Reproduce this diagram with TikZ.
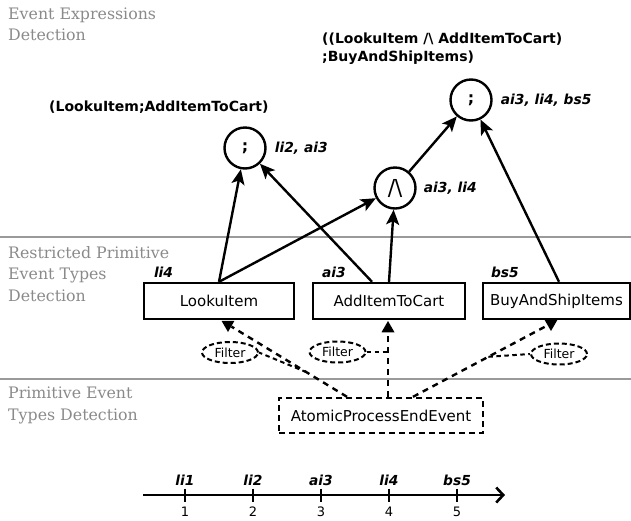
\documentclass[tikz,border=0pt]{standalone}
\usepackage{fontspec}
\setmainfont{DejaVu Sans}
\newfontfamily\layerfont{DejaVu Serif}
\usetikzlibrary{arrows.meta,shapes.geometric}
\definecolor{layergray}{HTML}{8A8A8A}
\definecolor{rulegray}{HTML}{9A9A9A}
\tikzset{
  layertxt/.style={anchor=west,align=left,inner sep=0pt,text=layergray,
    font=\layerfont\fontsize{15.8}{21.5}\selectfont},
  layerrule/.style={draw=rulegray,line width=1.3pt},
  evbox/.style={draw,line width=2.4pt,minimum height=36pt,inner sep=0pt,
    font=\fontsize{15}{18}\selectfont},
  srcbox/.style={draw,line width=2.4pt,dash pattern=on 6pt off 4pt,
    minimum width=204pt,minimum height=35pt,inner sep=0pt,
    font=\fontsize{15}{18}\selectfont},
  opnode/.style={circle,draw,line width=2.4pt,minimum size=41pt,inner sep=0pt},
  tag/.style={inner sep=0pt,font=\bfseries\itshape\fontsize{13.8}{16}\selectfont},
  expr/.style={inner sep=0pt,align=left,font=\bfseries\fontsize{14}{18}\selectfont},
  arr/.style={line width=2.4pt,-{Stealth[length=15pt,width=13pt,inset=3.5pt]}},
  dep/.style={line width=2.4pt,dash pattern=on 6pt off 5pt},
  tipmark/.style={regular polygon,regular polygon sides=3,fill=black,
    minimum size=15pt,inner sep=0pt},
  filt/.style={ellipse,draw,line width=2pt,dash pattern=on 5pt off 3pt,
    minimum width=56pt,minimum height=21pt,inner sep=0pt,
    font=\fontsize{12.5}{14}\selectfont},
  link/.style={line width=2pt,dash pattern=on 4.5pt off 3.5pt},
  axis/.style={line width=2.6pt,-{Straight Barb[length=7pt,width=15pt]}},
  tick/.style={line width=2.6pt},
  num/.style={inner sep=0pt,font=\fontsize{13}{15}\selectfont}
}
\begin{document}
\begin{tikzpicture}[x=1pt,y=-1pt]
\useasboundingbox (0,0) rectangle (631,520);

% layer separators
\draw[layerrule] (0,237) -- (631,237);
\draw[layerrule] (0,379) -- (631,379);

% layer titles
\node[layertxt] (L1) at (8,24.5) {Event Expressions\\Detection};
\node[layertxt] (L2) at (8,274) {Restricted Primitive\\Event Types\\Detection};
\node[layertxt] (L3) at (8,405.5) {Primitive Event\\Types Detection};

% restricted primitive event types
\node[evbox,minimum width=150pt] (look) at (219,301) {LookuItem};
\node[evbox,minimum width=152pt] (add) at (389,301) {AddItemToCart};
\node[evbox,minimum width=147pt] (buy) at (556.5,301) {BuyAndShipItems};
\node[tag,anchor=base west] (tlook) at ([xshift=11pt,yshift=4pt]look.north west) {li4};
\node[tag,anchor=base west] (tadd) at ([xshift=10pt,yshift=4pt]add.north west) {ai3};
\node[tag,anchor=base west] (tbuy) at ([xshift=9pt,yshift=4pt]buy.north west) {bs5};

% primitive event source
\node[srcbox] (ape) at (381,415.5) {AtomicProcessEndEvent};

% operator nodes
\node[opnode] (c1) at (245,148) {\textbf{\fontsize{16}{18}\selectfont ;}};
\node[opnode] (c2) at (395,188) {\fontsize{22}{24}\selectfont /\kern-0.5pt\textbackslash};
\node[opnode] (c3) at (471,100) {\textbf{\fontsize{16}{18}\selectfont ;}};
\node[tag,anchor=west] (tc1) at ([xshift=8pt]c1.east) {li2, ai3};
\node[tag,anchor=west] (tc2) at ([xshift=7pt]c2.east) {ai3, li4};
\node[tag,anchor=west] (tc3) at ([xshift=8pt]c3.east) {ai3, li4, bs5};

% expressions
\node[expr,anchor=west] (e1) at (49,107) {(LookuItem;AddItemToCart)};
\node[expr,anchor=west] (e2) at (322,49) {((LookuItem /\textbackslash\ AddItemToCart)\\;BuyAndShipItems)};

% composition arrows
\draw[arr] (look.north) -- (c1);
\draw[arr] ([xshift=-17pt]add.north) -- (c1);
\draw[arr] (look.north) -- (c2);
\draw[arr] (add.north) -- (c2);
\draw[arr] (c2) -- (c3);
\draw[arr] ([xshift=2.5pt]buy.north) -- (c3);

% dashed dependencies with filters
\node[tipmark,shape border rotate=180] (m1) at (228,324.5) {};
\node[tipmark] (m2) at (388,328.5) {};
\node[tipmark,shape border rotate=180] (m3) at (551,323.5) {};

\node[filt] (f1) at (230,352.5) {Filter};
\node[filt] (f2) at (337.5,352) {Filter};
\node[filt] (f3) at (559,354) {Filter};

\draw[dep] ([xshift=-34pt]ape.north) -- coordinate[pos=0.35] (j1) (m1);
\draw[dep] (m2.south |- ape.north) -- (m2.south);
\draw[dep] ([xshift=32pt]ape.north) -- coordinate[pos=0.56] (j3) (m3);
\coordinate (j2) at (m2.south |- f2.east);

\draw[link] (j1) -- (f1.east);
\draw[link] (f2.east) -- (j2);
\draw[link] (j3) -- (f3.west);

% timeline
\coordinate (a0) at (143,495);
\coordinate (a1) at (505,495);
\draw[axis] (a0) -- (a1);
\foreach \x/\n/\lab in {185/1/li1, 253/2/li2, 321/3/ai3, 389/4/li4, 457/5/bs5}{
  \coordinate (k\n) at (\x,495);
  \draw[tick] ([yshift=6.5pt]k\n) -- ([yshift=-7pt]k\n);
  \node[tag] (kl\n) at ([yshift=15pt]k\n) {\lab};
  \node[num] (kn\n) at ([yshift=-17pt]k\n) {\n};
}
\end{tikzpicture}
\end{document}
